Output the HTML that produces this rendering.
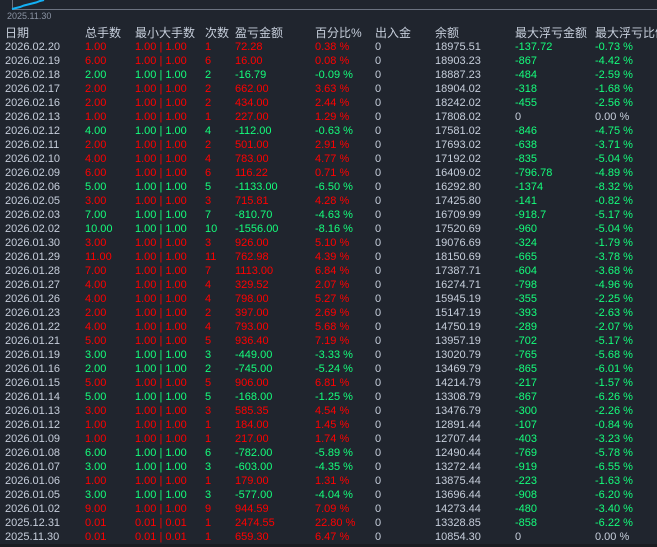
<!DOCTYPE html>
<html>
<head>
<meta charset="utf-8">
<style>
html,body{margin:0;padding:0;}
body{width:657px;height:547px;background:#20252e;overflow:hidden;position:relative;
font-family:"Liberation Sans","Noto Sans CJK SC",sans-serif;font-size:11px;color:#c6cedb;}
.r{position:absolute;left:0;width:657px;height:14px;line-height:14px;white-space:pre;}
.r span{position:absolute;top:0;white-space:pre;}
.h{font-size:12px;font-family:"Liberation Sans","Noto Sans CJK SC",sans-serif;}
.R{color:#ff0000;}
.G{color:#14ff7c;}
.c0{left:5px}.c1{left:85px}.c2{left:135px}.c3{left:205px}.c4{left:235px}.c5{left:315px}
.c6{left:375px}.c7{left:435px}.c8{left:515px}.c9{left:595px}
</style>
</head>
<body>
<svg width="657" height="20" style="position:absolute;left:0;top:0">
<line x1="12.5" y1="0" x2="12.5" y2="9.5" stroke="#6b7280" stroke-width="1"/>
<line x1="12" y1="9.5" x2="657" y2="9.5" stroke="#6b7280" stroke-width="1"/>
<polyline points="12,9 16,8 20,7 24,5.5 28,4.5 32,3.5 36,2.5 40,1 44,0" fill="none" stroke="#12b0f5" stroke-width="2"/>
</svg>
<div style="position:absolute;left:7px;top:11px;font-size:9px;line-height:10px;color:#8a93a3;">2025.11.30</div>

<div class="r h" style="top:26px"><span class="c0">日期</span><span class="c1">总手数</span><span class="c2">最小大手数</span><span class="c3">次数</span><span class="c4">盈亏金额</span><span class="c5">百分比%</span><span class="c6">出入金</span><span class="c7">余额</span><span class="c8">最大浮亏金额</span><span class="c9">最大浮亏比例</span></div>

<div id="rows"></div>

<div class="r" style="top:39.7px"><span class="c0">2026.02.20</span><span class="c1 R">1.00</span><span class="c2 R">1.00 | 1.00</span><span class="c3 R">1</span><span class="c4 R">72.28</span><span class="c5 R">0.38 %</span><span class="c6">0</span><span class="c7">18975.51</span><span class="c8 G">-137.72</span><span class="c9 G">-0.73 %</span></div>
<div class="r" style="top:53.7px"><span class="c0">2026.02.19</span><span class="c1 R">6.00</span><span class="c2 R">1.00 | 1.00</span><span class="c3 R">6</span><span class="c4 R">16.00</span><span class="c5 R">0.08 %</span><span class="c6">0</span><span class="c7">18903.23</span><span class="c8 G">-867</span><span class="c9 G">-4.42 %</span></div>
<div class="r" style="top:67.7px"><span class="c0">2026.02.18</span><span class="c1 G">2.00</span><span class="c2 G">1.00 | 1.00</span><span class="c3 G">2</span><span class="c4 G">-16.79</span><span class="c5 G">-0.09 %</span><span class="c6">0</span><span class="c7">18887.23</span><span class="c8 G">-484</span><span class="c9 G">-2.59 %</span></div>
<div class="r" style="top:81.7px"><span class="c0">2026.02.17</span><span class="c1 R">2.00</span><span class="c2 R">1.00 | 1.00</span><span class="c3 R">2</span><span class="c4 R">662.00</span><span class="c5 R">3.63 %</span><span class="c6">0</span><span class="c7">18904.02</span><span class="c8 G">-318</span><span class="c9 G">-1.68 %</span></div>
<div class="r" style="top:95.7px"><span class="c0">2026.02.16</span><span class="c1 R">2.00</span><span class="c2 R">1.00 | 1.00</span><span class="c3 R">2</span><span class="c4 R">434.00</span><span class="c5 R">2.44 %</span><span class="c6">0</span><span class="c7">18242.02</span><span class="c8 G">-455</span><span class="c9 G">-2.56 %</span></div>
<div class="r" style="top:109.7px"><span class="c0">2026.02.13</span><span class="c1 R">1.00</span><span class="c2 R">1.00 | 1.00</span><span class="c3 R">1</span><span class="c4 R">227.00</span><span class="c5 R">1.29 %</span><span class="c6">0</span><span class="c7">17808.02</span><span class="c8">0</span><span class="c9">0.00 %</span></div>
<div class="r" style="top:123.7px"><span class="c0">2026.02.12</span><span class="c1 G">4.00</span><span class="c2 G">1.00 | 1.00</span><span class="c3 G">4</span><span class="c4 G">-112.00</span><span class="c5 G">-0.63 %</span><span class="c6">0</span><span class="c7">17581.02</span><span class="c8 G">-846</span><span class="c9 G">-4.75 %</span></div>
<div class="r" style="top:137.7px"><span class="c0">2026.02.11</span><span class="c1 R">2.00</span><span class="c2 R">1.00 | 1.00</span><span class="c3 R">2</span><span class="c4 R">501.00</span><span class="c5 R">2.91 %</span><span class="c6">0</span><span class="c7">17693.02</span><span class="c8 G">-638</span><span class="c9 G">-3.71 %</span></div>
<div class="r" style="top:151.7px"><span class="c0">2026.02.10</span><span class="c1 R">4.00</span><span class="c2 R">1.00 | 1.00</span><span class="c3 R">4</span><span class="c4 R">783.00</span><span class="c5 R">4.77 %</span><span class="c6">0</span><span class="c7">17192.02</span><span class="c8 G">-835</span><span class="c9 G">-5.04 %</span></div>
<div class="r" style="top:165.7px"><span class="c0">2026.02.09</span><span class="c1 R">6.00</span><span class="c2 R">1.00 | 1.00</span><span class="c3 R">6</span><span class="c4 R">116.22</span><span class="c5 R">0.71 %</span><span class="c6">0</span><span class="c7">16409.02</span><span class="c8 G">-796.78</span><span class="c9 G">-4.89 %</span></div>
<div class="r" style="top:179.7px"><span class="c0">2026.02.06</span><span class="c1 G">5.00</span><span class="c2 G">1.00 | 1.00</span><span class="c3 G">5</span><span class="c4 G">-1133.00</span><span class="c5 G">-6.50 %</span><span class="c6">0</span><span class="c7">16292.80</span><span class="c8 G">-1374</span><span class="c9 G">-8.32 %</span></div>
<div class="r" style="top:193.7px"><span class="c0">2026.02.05</span><span class="c1 R">3.00</span><span class="c2 R">1.00 | 1.00</span><span class="c3 R">3</span><span class="c4 R">715.81</span><span class="c5 R">4.28 %</span><span class="c6">0</span><span class="c7">17425.80</span><span class="c8 G">-141</span><span class="c9 G">-0.82 %</span></div>
<div class="r" style="top:207.7px"><span class="c0">2026.02.03</span><span class="c1 G">7.00</span><span class="c2 G">1.00 | 1.00</span><span class="c3 G">7</span><span class="c4 G">-810.70</span><span class="c5 G">-4.63 %</span><span class="c6">0</span><span class="c7">16709.99</span><span class="c8 G">-918.7</span><span class="c9 G">-5.17 %</span></div>
<div class="r" style="top:221.7px"><span class="c0">2026.02.02</span><span class="c1 G">10.00</span><span class="c2 G">1.00 | 1.00</span><span class="c3 G">10</span><span class="c4 G">-1556.00</span><span class="c5 G">-8.16 %</span><span class="c6">0</span><span class="c7">17520.69</span><span class="c8 G">-960</span><span class="c9 G">-5.04 %</span></div>
<div class="r" style="top:235.7px"><span class="c0">2026.01.30</span><span class="c1 R">3.00</span><span class="c2 R">1.00 | 1.00</span><span class="c3 R">3</span><span class="c4 R">926.00</span><span class="c5 R">5.10 %</span><span class="c6">0</span><span class="c7">19076.69</span><span class="c8 G">-324</span><span class="c9 G">-1.79 %</span></div>
<div class="r" style="top:249.7px"><span class="c0">2026.01.29</span><span class="c1 R">11.00</span><span class="c2 R">1.00 | 1.00</span><span class="c3 R">11</span><span class="c4 R">762.98</span><span class="c5 R">4.39 %</span><span class="c6">0</span><span class="c7">18150.69</span><span class="c8 G">-665</span><span class="c9 G">-3.78 %</span></div>
<div class="r" style="top:263.7px"><span class="c0">2026.01.28</span><span class="c1 R">7.00</span><span class="c2 R">1.00 | 1.00</span><span class="c3 R">7</span><span class="c4 R">1113.00</span><span class="c5 R">6.84 %</span><span class="c6">0</span><span class="c7">17387.71</span><span class="c8 G">-604</span><span class="c9 G">-3.68 %</span></div>
<div class="r" style="top:277.7px"><span class="c0">2026.01.27</span><span class="c1 R">4.00</span><span class="c2 R">1.00 | 1.00</span><span class="c3 R">4</span><span class="c4 R">329.52</span><span class="c5 R">2.07 %</span><span class="c6">0</span><span class="c7">16274.71</span><span class="c8 G">-798</span><span class="c9 G">-4.96 %</span></div>
<div class="r" style="top:291.7px"><span class="c0">2026.01.26</span><span class="c1 R">4.00</span><span class="c2 R">1.00 | 1.00</span><span class="c3 R">4</span><span class="c4 R">798.00</span><span class="c5 R">5.27 %</span><span class="c6">0</span><span class="c7">15945.19</span><span class="c8 G">-355</span><span class="c9 G">-2.25 %</span></div>
<div class="r" style="top:305.7px"><span class="c0">2026.01.23</span><span class="c1 R">2.00</span><span class="c2 R">1.00 | 1.00</span><span class="c3 R">2</span><span class="c4 R">397.00</span><span class="c5 R">2.69 %</span><span class="c6">0</span><span class="c7">15147.19</span><span class="c8 G">-393</span><span class="c9 G">-2.63 %</span></div>
<div class="r" style="top:319.7px"><span class="c0">2026.01.22</span><span class="c1 R">4.00</span><span class="c2 R">1.00 | 1.00</span><span class="c3 R">4</span><span class="c4 R">793.00</span><span class="c5 R">5.68 %</span><span class="c6">0</span><span class="c7">14750.19</span><span class="c8 G">-289</span><span class="c9 G">-2.07 %</span></div>
<div class="r" style="top:333.7px"><span class="c0">2026.01.21</span><span class="c1 R">5.00</span><span class="c2 R">1.00 | 1.00</span><span class="c3 R">5</span><span class="c4 R">936.40</span><span class="c5 R">7.19 %</span><span class="c6">0</span><span class="c7">13957.19</span><span class="c8 G">-702</span><span class="c9 G">-5.17 %</span></div>
<div class="r" style="top:347.7px"><span class="c0">2026.01.19</span><span class="c1 G">3.00</span><span class="c2 G">1.00 | 1.00</span><span class="c3 G">3</span><span class="c4 G">-449.00</span><span class="c5 G">-3.33 %</span><span class="c6">0</span><span class="c7">13020.79</span><span class="c8 G">-765</span><span class="c9 G">-5.68 %</span></div>
<div class="r" style="top:361.7px"><span class="c0">2026.01.16</span><span class="c1 G">2.00</span><span class="c2 G">1.00 | 1.00</span><span class="c3 G">2</span><span class="c4 G">-745.00</span><span class="c5 G">-5.24 %</span><span class="c6">0</span><span class="c7">13469.79</span><span class="c8 G">-865</span><span class="c9 G">-6.01 %</span></div>
<div class="r" style="top:375.7px"><span class="c0">2026.01.15</span><span class="c1 R">5.00</span><span class="c2 R">1.00 | 1.00</span><span class="c3 R">5</span><span class="c4 R">906.00</span><span class="c5 R">6.81 %</span><span class="c6">0</span><span class="c7">14214.79</span><span class="c8 G">-217</span><span class="c9 G">-1.57 %</span></div>
<div class="r" style="top:389.7px"><span class="c0">2026.01.14</span><span class="c1 G">5.00</span><span class="c2 G">1.00 | 1.00</span><span class="c3 G">5</span><span class="c4 G">-168.00</span><span class="c5 G">-1.25 %</span><span class="c6">0</span><span class="c7">13308.79</span><span class="c8 G">-867</span><span class="c9 G">-6.26 %</span></div>
<div class="r" style="top:403.7px"><span class="c0">2026.01.13</span><span class="c1 R">3.00</span><span class="c2 R">1.00 | 1.00</span><span class="c3 R">3</span><span class="c4 R">585.35</span><span class="c5 R">4.54 %</span><span class="c6">0</span><span class="c7">13476.79</span><span class="c8 G">-300</span><span class="c9 G">-2.26 %</span></div>
<div class="r" style="top:417.7px"><span class="c0">2026.01.12</span><span class="c1 R">1.00</span><span class="c2 R">1.00 | 1.00</span><span class="c3 R">1</span><span class="c4 R">184.00</span><span class="c5 R">1.45 %</span><span class="c6">0</span><span class="c7">12891.44</span><span class="c8 G">-107</span><span class="c9 G">-0.84 %</span></div>
<div class="r" style="top:431.7px"><span class="c0">2026.01.09</span><span class="c1 R">1.00</span><span class="c2 R">1.00 | 1.00</span><span class="c3 R">1</span><span class="c4 R">217.00</span><span class="c5 R">1.74 %</span><span class="c6">0</span><span class="c7">12707.44</span><span class="c8 G">-403</span><span class="c9 G">-3.23 %</span></div>
<div class="r" style="top:445.7px"><span class="c0">2026.01.08</span><span class="c1 G">6.00</span><span class="c2 G">1.00 | 1.00</span><span class="c3 G">6</span><span class="c4 G">-782.00</span><span class="c5 G">-5.89 %</span><span class="c6">0</span><span class="c7">12490.44</span><span class="c8 G">-769</span><span class="c9 G">-5.78 %</span></div>
<div class="r" style="top:459.7px"><span class="c0">2026.01.07</span><span class="c1 G">3.00</span><span class="c2 G">1.00 | 1.00</span><span class="c3 G">3</span><span class="c4 G">-603.00</span><span class="c5 G">-4.35 %</span><span class="c6">0</span><span class="c7">13272.44</span><span class="c8 G">-919</span><span class="c9 G">-6.55 %</span></div>
<div class="r" style="top:473.7px"><span class="c0">2026.01.06</span><span class="c1 R">1.00</span><span class="c2 R">1.00 | 1.00</span><span class="c3 R">1</span><span class="c4 R">179.00</span><span class="c5 R">1.31 %</span><span class="c6">0</span><span class="c7">13875.44</span><span class="c8 G">-223</span><span class="c9 G">-1.63 %</span></div>
<div class="r" style="top:487.7px"><span class="c0">2026.01.05</span><span class="c1 G">3.00</span><span class="c2 G">1.00 | 1.00</span><span class="c3 G">3</span><span class="c4 G">-577.00</span><span class="c5 G">-4.04 %</span><span class="c6">0</span><span class="c7">13696.44</span><span class="c8 G">-908</span><span class="c9 G">-6.20 %</span></div>
<div class="r" style="top:501.7px"><span class="c0">2026.01.02</span><span class="c1 R">9.00</span><span class="c2 R">1.00 | 1.00</span><span class="c3 R">9</span><span class="c4 R">944.59</span><span class="c5 R">7.09 %</span><span class="c6">0</span><span class="c7">14273.44</span><span class="c8 G">-480</span><span class="c9 G">-3.40 %</span></div>
<div class="r" style="top:515.7px"><span class="c0">2025.12.31</span><span class="c1 R">0.01</span><span class="c2 R">0.01 | 0.01</span><span class="c3 R">1</span><span class="c4 R">2474.55</span><span class="c5 R">22.80 %</span><span class="c6">0</span><span class="c7">13328.85</span><span class="c8 G">-858</span><span class="c9 G">-6.22 %</span></div>
<div class="r" style="top:529.7px"><span class="c0">2025.11.30</span><span class="c1 R">0.01</span><span class="c2 R">0.01 | 0.01</span><span class="c3 R">1</span><span class="c4 R">659.30</span><span class="c5 R">6.47 %</span><span class="c6">0</span><span class="c7">10854.30</span><span class="c8">0</span><span class="c9">0.00 %</span></div>

<div style="position:absolute;left:0;top:544px;width:657px;height:3px;background:#1a1c21;"></div>
</body>
</html>
